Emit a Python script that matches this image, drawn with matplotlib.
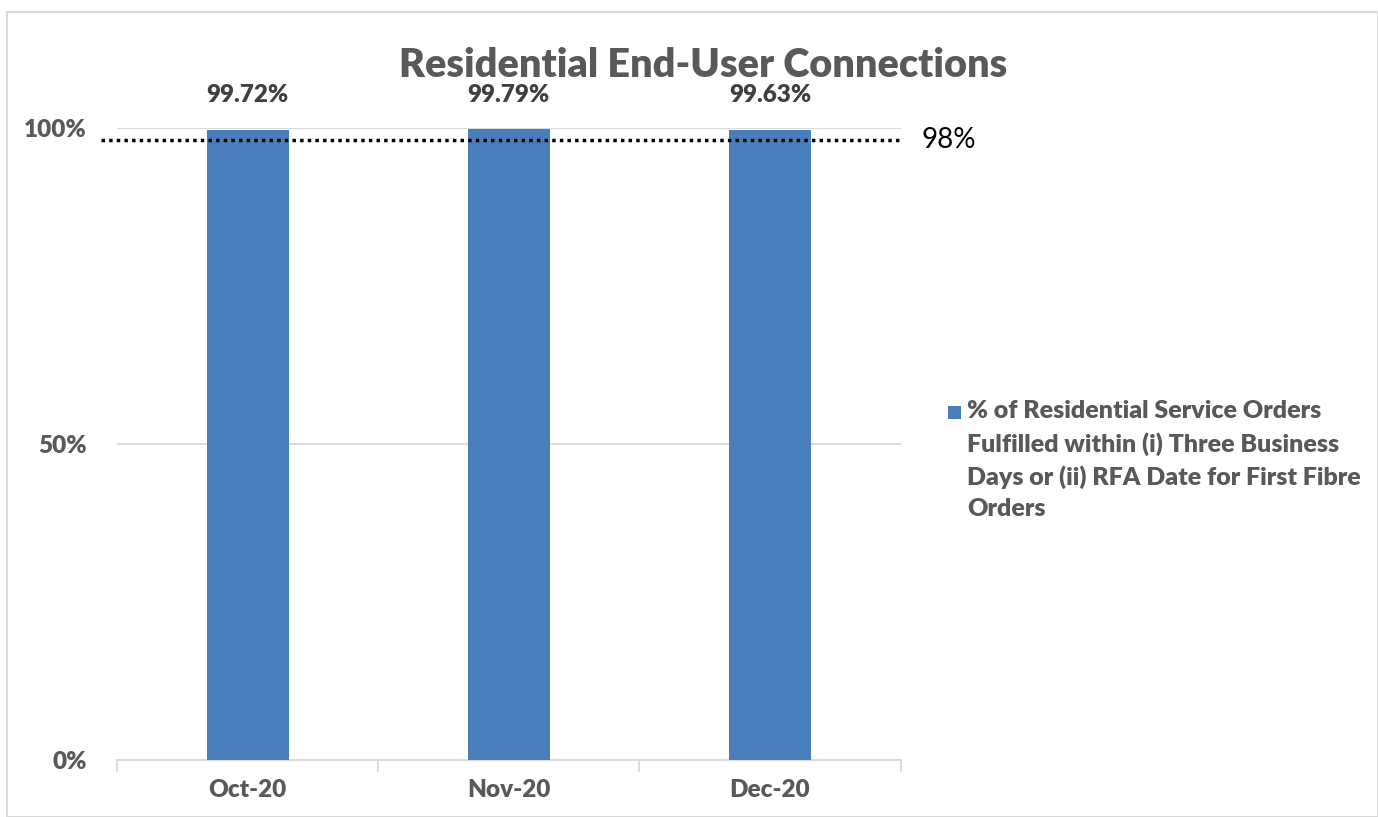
import matplotlib.pyplot as plt
from matplotlib import rcParams
from matplotlib.patches import Rectangle

rcParams["font.family"] = ["Lato", "DejaVu Sans"]

# Data
months = ["Oct-20", "Nov-20", "Dec-20"]
fulfilled_pct = [99.72, 99.79, 99.63]
target_pct = 98
y_ticks = [0, 50, 100]
series_label = ("% of Residential Service Orders\nFulfilled within (i) Three Business\n"
                "Days or (ii) RFA Date for First Fibre\nOrders")

BAR = "#4a7ebb"
GREY = "#595959"
DARK = "#404040"

fig = plt.figure(figsize=(13.78, 8.17), dpi=100)
fig.patch.set_facecolor("white")
fig.patches.append(Rectangle((0.005, 0.0), 0.995, 0.985, transform=fig.transFigure,
                             fill=False, edgecolor="#d9d9d9", lw=1.5))

ax = fig.add_axes([0.085, 0.07, 0.5685, 0.7735])
x = range(len(months))
bars = ax.bar(x, fulfilled_pct, width=0.315, color=BAR, zorder=3)

ax.set_xlim(-0.5, 2.5)
ax.set_ylim(0, 100)
ax.set_yticks(y_ticks)
ax.set_yticklabels([f"{t}%" for t in y_ticks])
ax.set_xticks(list(x))
ax.set_xticklabels(months)
for lab in ax.get_xticklabels() + ax.get_yticklabels():
    lab.set_fontweight("heavy")
    lab.set_color(GREY)
    lab.set_fontsize(17.5)
ax.tick_params(axis="y", length=0, pad=22)
ax.tick_params(axis="x", length=0, pad=14)

# gridlines + category separators
ax.grid(axis="y", color="#d9d9d9", lw=1.3, zorder=0)
for s in ["top", "right", "left"]:
    ax.spines[s].set_visible(False)
ax.spines["bottom"].set_color("#d9d9d9")
ax.spines["bottom"].set_linewidth(1.3)
for xb in [-0.5, 0.5, 1.5, 2.5]:
    ax.plot([xb, xb], [0, -1.7], color="#d9d9d9", lw=1.3, clip_on=False)

# value labels
for b, v in zip(bars, fulfilled_pct):
    ax.text(b.get_x() + b.get_width() / 2, 103.5, f"{v:.2f}%", ha="center", va="bottom",
            fontsize=17.5, fontweight="heavy", color=DARK)

# 98% target line
ax.plot([-0.56, 2.5], [target_pct, target_pct], color="black", lw=2.5,
        linestyle=(0, (1, 1.2)), clip_on=False, zorder=4)
ax.text(2.58, target_pct, f"{target_pct}%", ha="left", va="center", fontsize=20, color="black")

fig.text(0.51, 0.92, "Residential End-User Connections", ha="center", va="center",
         fontsize=28.5, fontweight="heavy", color=GREY)

# legend (marker beside the first line of the wrapped label)
fig.patches.append(Rectangle((0.688, 0.487), 0.0095, 0.016, transform=fig.transFigure,
                             facecolor=BAR, edgecolor="none"))
fig.text(0.702, 0.51, series_label, ha="left", va="top", fontsize=18,
         fontweight="heavy", color=GREY, linespacing=1.5)

fig.savefig("out.png", dpi=100, facecolor="white")
